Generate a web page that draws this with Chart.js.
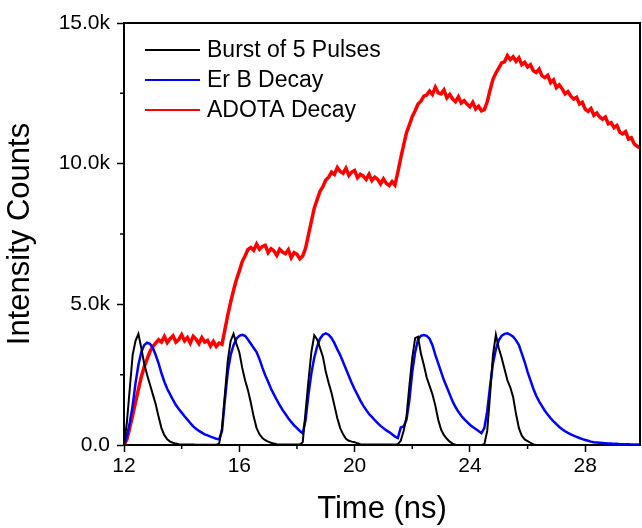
<!DOCTYPE html>
<html><head><meta charset="utf-8">
<script src="https://cdn.jsdelivr.net/npm/chart.js@4/dist/chart.umd.min.js"></script>
<style>html,body{margin:0;padding:0;background:#fff;overflow:hidden}#wrap{width:642px;height:528px}</style>
</head><body><div id="wrap"><canvas id="c" width="642" height="528"></canvas></div>
<script>
// Time axis (ns)
const timeNs = [
12.0,12.1,12.2,12.3,12.4,12.5,12.6,12.7,12.8,12.9,
13.0,13.1,13.2,13.3,13.4,13.5,13.6,13.7,13.8,13.9,
14.0,14.1,14.2,14.3,14.4,14.5,14.6,14.7,14.8,14.9,
15.0,15.1,15.2,15.3,15.4,15.5,15.6,15.7,15.8,15.9,
16.0,16.1,16.2,16.3,16.4,16.5,16.6,16.7,16.8,16.9,
17.0,17.1,17.2,17.3,17.4,17.5,17.6,17.7,17.8,17.9,
18.0,18.1,18.2,18.3,18.4,18.5,18.6,18.7,18.8,18.9,
19.0,19.1,19.2,19.3,19.4,19.5,19.6,19.7,19.8,19.9,
20.0,20.1,20.2,20.3,20.4,20.5,20.6,20.7,20.8,20.9,
21.0,21.1,21.2,21.3,21.4,21.5,21.6,21.7,21.8,21.9,
22.0,22.1,22.2,22.3,22.4,22.5,22.6,22.7,22.8,22.9,
23.0,23.1,23.2,23.3,23.4,23.5,23.6,23.7,23.8,23.9,
24.0,24.1,24.2,24.3,24.4,24.5,24.6,24.7,24.8,24.9,
25.0,25.1,25.2,25.3,25.4,25.5,25.6,25.7,25.8,25.9,
26.0,26.1,26.2,26.3,26.4,26.5,26.6,26.7,26.8,26.9,
27.0,27.1,27.2,27.3,27.4,27.5,27.6,27.7,27.8,27.9,
28.0,28.1,28.2,28.3,28.4,28.5,28.6,28.7,28.8,28.9,
29.0,29.1,29.2,29.3,29.4,29.5,29.6,29.7,29.8,29.9
];
// Intensity counts, in thousands
const burstK = [
0,0.8,2.0,3.2,3.7,3.95,3.45,2.9,2.5,2.15,
1.8,1.45,1.0,0.6,0.35,0.2,0.12,0.08,0.05,0.03,
0.02,0.02,0.02,0.02,0.02,0.01,0.01,0.01,0.01,0.01,
0.01,0.01,0.01,0.05,0.6,1.8,3.0,3.7,3.95,3.6,
3.3,2.75,2.3,1.95,1.5,1.0,0.6,0.38,0.25,0.17,
0.12,0.08,0.05,0.03,0.02,0.02,0.02,0.02,0.02,0.02,
0.02,0.02,0.1,1.2,2.3,3.3,3.9,3.75,3.45,3.14,
2.6,2.2,1.85,1.4,0.95,0.6,0.38,0.22,0.15,0.12,
0.1,0.06,0.03,0.02,0.02,0.02,0.02,0.02,0.02,0.02,
0.02,0.02,0.02,0.02,0.02,0.03,0.15,0.5,1.0,2.1,
3.1,3.8,3.85,3.25,2.85,2.4,2.1,1.8,1.4,0.9,
0.55,0.35,0.22,0.12,0.05,0.01,0,0,0,0,
0,0,0,0,0,0.03,0.5,1.8,3.2,3.92,
3.45,3.1,2.7,2.3,2.05,1.7,1.1,0.6,0.33,0.2,
0.14,0.08,0.02,0.01,null,null,null,null,null,null,
null,null,null,null,null,null,null,null,null,null,
null,null,null,null,null,null,null,null,null,null,
null,null,null,null,null,null,null,null,null,null
];
const erBK = [
0,0.3,0.8,1.4,2.2,2.85,3.3,3.55,3.64,3.6,
3.45,3.2,2.9,2.55,2.25,2.0,1.8,1.6,1.42,1.28,
1.15,1.02,0.9,0.78,0.66,0.58,0.5,0.44,0.38,0.34,
0.3,0.26,0.22,0.2,0.5,1.6,2.6,3.2,3.55,3.78,
3.88,3.92,3.88,3.75,3.6,3.45,3.3,3.05,2.75,2.48,
2.25,2.0,1.8,1.6,1.42,1.25,1.1,0.95,0.82,0.7,
0.6,0.5,0.42,0.9,1.8,2.55,3.1,3.5,3.78,3.92,
3.97,3.92,3.8,3.62,3.4,3.2,2.95,2.7,2.45,2.2,
1.98,1.78,1.58,1.4,1.25,1.1,1.0,0.88,0.78,0.68,
0.6,0.52,0.46,0.38,0.3,0.25,0.62,0.66,0.9,1.6,
2.6,3.3,3.75,3.88,3.91,3.88,3.78,3.55,3.2,2.9,
2.6,2.3,2.05,1.8,1.55,1.35,1.18,1.04,0.92,0.82,
0.72,0.64,0.57,0.5,0.42,0.6,1.2,2.1,2.9,3.4,
3.72,3.88,3.95,3.97,3.92,3.85,3.72,3.55,3.25,2.95,
2.6,2.3,2.0,1.75,1.55,1.38,1.22,1.08,0.95,0.84,
0.74,0.64,0.56,0.49,0.43,0.38,0.33,0.29,0.25,0.21,
0.18,0.15,0.12,0.1,0.09,0.08,0.07,0.06,0.05,0.05,
0.04,0.04,0.03,0.03,0.03,0.03,0.02,0.02,0.02,0.02
];
const adotaK = [
0.00,0.20,0.62,1.05,1.52,1.98,2.42,2.78,3.05,3.32,
3.50,3.62,3.74,3.66,3.86,3.64,3.78,3.88,3.66,3.75,
3.92,3.70,3.82,3.62,3.86,3.76,3.60,3.82,3.66,3.72,
3.52,3.68,3.50,3.62,3.58,4.10,4.62,5.08,5.50,5.88,
6.18,6.52,6.72,6.95,7.02,6.92,7.14,6.96,7.06,7.10,
6.84,6.98,6.90,6.74,6.96,6.86,6.80,6.94,6.66,6.84,
6.78,6.62,6.72,7.00,7.48,7.95,8.42,8.72,9.02,9.18,
9.42,9.52,9.70,9.62,9.86,9.72,9.66,9.84,9.58,9.70,
9.76,9.50,9.62,9.56,9.44,9.62,9.40,9.52,9.44,9.28,
9.46,9.30,9.22,9.36,9.24,9.70,10.20,10.66,11.10,11.38,
11.68,11.88,12.12,12.22,12.40,12.44,12.58,12.46,12.72,12.52,
12.48,12.62,12.34,12.46,12.30,12.20,12.38,12.16,12.24,12.12,
12.02,12.18,11.94,12.04,11.88,11.92,12.20,12.62,13.00,13.22,
13.40,13.58,13.62,13.84,13.70,13.80,13.64,13.76,13.52,13.60,
13.44,13.52,13.30,13.24,13.36,13.12,13.06,13.14,12.88,12.98,
12.70,12.80,12.66,12.48,12.56,12.40,12.30,12.36,12.12,12.18,
11.94,11.86,11.96,11.72,11.80,11.66,11.58,11.66,11.42,11.46,
11.28,11.36,11.12,11.06,11.14,10.88,10.92,10.70,10.62,10.56
];
const seriesLabels = ['Burst of 5 Pulses', 'Er B Decay', 'ADOTA Decay'];
const seriesColors = ['#000000', '#0000ff', '#ff0000'];
const xTickValues = [12, 16, 20, 24, 28];
const xMinorTickValues = [14, 18, 22, 26];
const yTickValues = [0, 5, 10, 15];
const yMinorTickValues = [2.5, 7.5, 12.5];

const FONT = "'Liberation Sans', Arial, sans-serif";
const toPts = arr => timeNs.map((t, i) => ({x: t, y: arr[i]}));

const framePlugin = {
  id: 'frame',
  afterDraw(chart) {
    const {ctx, chartArea: a, scales: {x, y}} = chart;
    ctx.save();
    ctx.strokeStyle = '#000';
    ctx.lineWidth = 2;
    ctx.beginPath();
    ctx.moveTo(a.left, a.top); ctx.lineTo(a.right, a.top); ctx.lineTo(a.right, a.bottom);
    ctx.stroke();
    ctx.lineWidth = 1.5;
    ctx.beginPath();
    xMinorTickValues.forEach(v => { const px = x.getPixelForValue(v); ctx.moveTo(px, a.bottom); ctx.lineTo(px, a.bottom + 4); });
    yMinorTickValues.forEach(v => { const py = y.getPixelForValue(v); ctx.moveTo(a.left, py); ctx.lineTo(a.left - 4, py); });
    ctx.stroke();
    // legend inside plot
    const rows = [50, 80, 110];
    chart.data.datasets.forEach((ds, i) => {
      ctx.strokeStyle = ds.borderColor;
      ctx.lineWidth = 2;
      ctx.beginPath(); ctx.moveTo(145, rows[i]); ctx.lineTo(200, rows[i]); ctx.stroke();
      ctx.fillStyle = '#000';
      ctx.font = '23px ' + FONT;
      ctx.textBaseline = 'middle';
      ctx.textAlign = 'left';
      ctx.fillText(ds.label, 207, rows[i] + 1);
    });
    ctx.restore();
  }
};

new Chart(document.getElementById('c'), {
  type: 'line',
  data: {
    datasets: [
      {label: seriesLabels[0], data: toPts(burstK), borderColor: seriesColors[0], borderWidth: 2, pointRadius: 0, tension: 0, spanGaps: false},
      {label: seriesLabels[1], data: toPts(erBK), borderColor: seriesColors[1], borderWidth: 2.5, pointRadius: 0, tension: 0},
      {label: seriesLabels[2], data: toPts(adotaK), borderColor: seriesColors[2], borderWidth: 3.5, pointRadius: 0, tension: 0}
    ]
  },
  options: {
    responsive: false,
    animation: false,
    devicePixelRatio: 1,
    layout: {padding: {top: 23, right: 2, left: 0, bottom: 0}},
    plugins: {legend: {display: false}, tooltip: {enabled: false}},
    scales: {
      x: {
        type: 'linear', min: 12, max: 29.9,
        afterBuildTicks: s => { s.ticks = xTickValues.map(v => ({value: v})); },
        afterFit: s => { s.height = 83; },
        ticks: {font: {family: FONT, size: 21}, color: '#000', padding: 2, maxRotation: 0, autoSkip: false, callback: v => String(v)},
        grid: {drawOnChartArea: false, drawTicks: true, tickLength: 7, tickWidth: 1.5, tickColor: '#000'},
        border: {color: '#000', width: 2},
        title: {display: true, text: 'Time (ns)', color: '#000', font: {family: FONT, size: 31}, padding: {top: 0, bottom: 0}}
      },
      y: {
        type: 'linear', min: 0, max: 15,
        afterBuildTicks: s => { s.ticks = yTickValues.map(v => ({value: v})); },
        afterFit: s => { s.width = 124; },
        ticks: {font: {family: FONT, size: 21}, color: '#000', padding: 7, callback: v => v === 0 ? '0.0' : v.toFixed(1) + 'k'},
        grid: {drawOnChartArea: false, drawTicks: true, tickLength: 7, tickWidth: 1.5, tickColor: '#000'},
        border: {color: '#000', width: 2},
        title: {display: true, text: 'Intensity Counts', color: '#000', font: {family: FONT, size: 31}, padding: {top: 2, bottom: 0}}
      }
    }
  },
  plugins: [framePlugin]
});
</script>
</body></html>
